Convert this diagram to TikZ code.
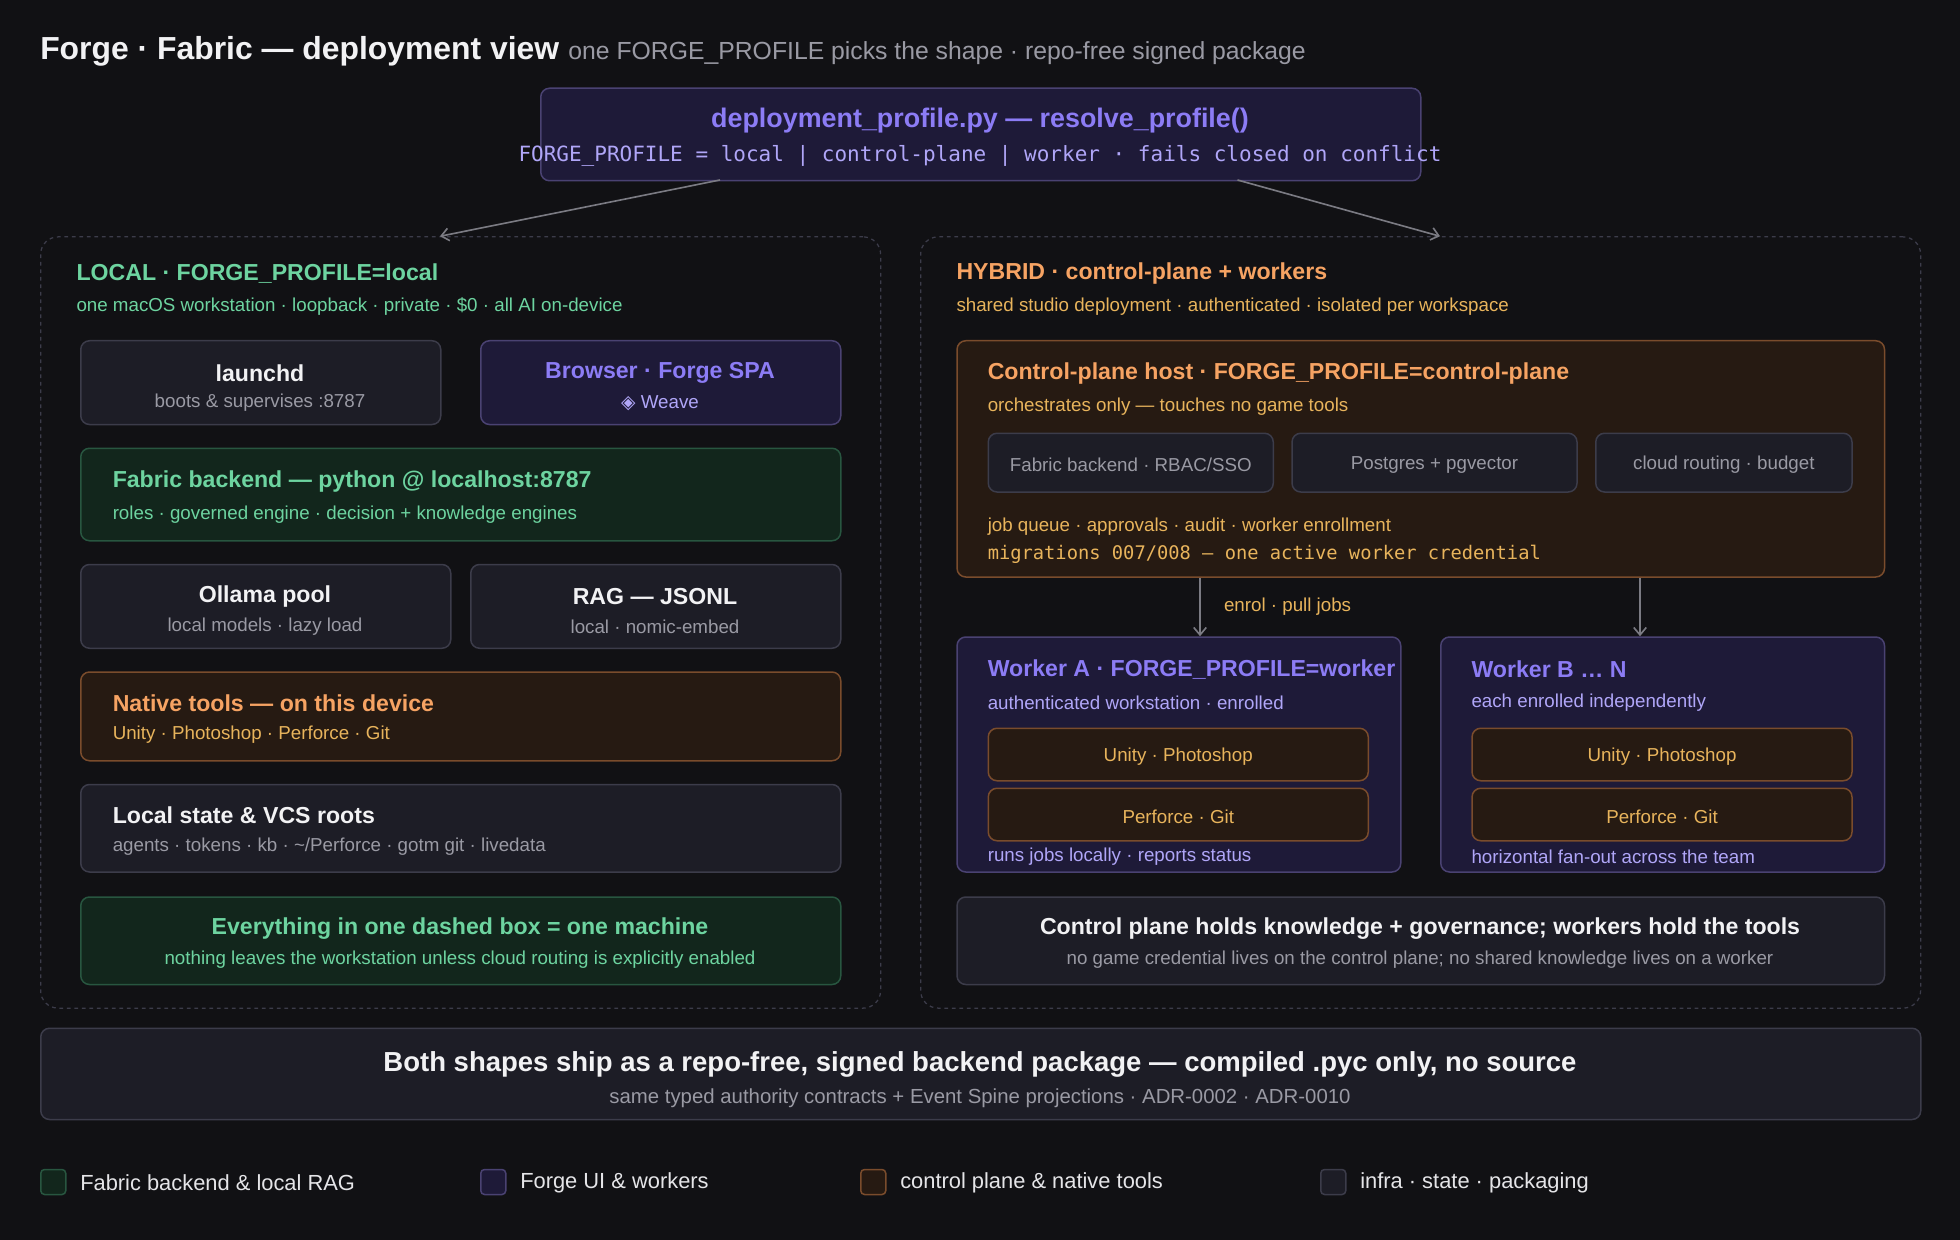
\documentclass[tikz,border=0pt]{standalone}
\usepackage{fontspec}
\setmainfont{Liberation Sans}
\setmonofont{DejaVu Sans Mono}
\newfontfamily\symf{DejaVu Sans}
\usetikzlibrary{arrows.meta}
\definecolor{bg}{HTML}{111114}
\definecolor{grn}{HTML}{6DD4A0}
\definecolor{pur}{HTML}{8C7CF5}
\definecolor{purl}{HTML}{B0A6F8}
\definecolor{org}{HTML}{F6A363}
\definecolor{gold}{HTML}{E8B45C}
\definecolor{gry}{HTML}{9A9AA4}
\definecolor{wht}{HTML}{F2F2F4}
\definecolor{nfill}{HTML}{1D1D26}\definecolor{nstr}{HTML}{3C3C4A}
\definecolor{pfill}{HTML}{1E1A38}\definecolor{pstr}{HTML}{4A4272}
\definecolor{gfill}{HTML}{12261C}\definecolor{gstr}{HTML}{285640}
\definecolor{ofill}{HTML}{261A12}\definecolor{ostr}{HTML}{7A4C2C}
\tikzset{
 bx/.style={anchor=north west,inner sep=0,rounded corners=7pt,line width=1.2pt},
 nb/.style={bx,fill=nfill,draw=nstr},
 pb/.style={bx,fill=pfill,draw=pstr},
 gb/.style={bx,fill=gfill,draw=gstr},
 ob/.style={bx,fill=ofill,draw=ostr},
 dz/.style={anchor=north west,inner sep=0,rounded corners=14pt,draw=nstr,dashed,line width=1pt},
 t/.style={inner sep=0,yshift=-1.5pt,font=\fontsize{18.5}{20}\selectfont\bfseries},
 s/.style={inner sep=0,yshift=-1.5pt,font=\fontsize{15}{16}\selectfont},
 m/.style={inner sep=0,yshift=-1.5pt,font=\fontsize{16}{18}\selectfont\ttfamily},
 arr/.style={draw=gry!80!black,line width=1.3pt,-{Straight Barb[length=6pt,width=10pt]}},
}
\begin{document}
\begin{tikzpicture}[x=1pt,y=-1pt]
\path[fill=bg,use as bounding box] (0,0) rectangle (1568,992);
\node[anchor=base west,inner sep=0,text=wht,font=\fontsize{25.5}{27}\selectfont\bfseries] (ttl) at (32,48) {Forge · Fabric — deployment view};
\node[anchor=base west,inner sep=0,text=gry,font=\fontsize{19.8}{21}\selectfont] (sub) at ([xshift=7pt]ttl.base east) {one FORGE\_PROFILE picks the shape · repo-free signed package};
% top
\node[pb,minimum width=704pt,minimum height=74pt] (top) at (432,70) {};
\node[t,text=pur,font=\fontsize{21.5}{23}\selectfont\bfseries] (topt) at (784,95) {deployment\_profile.py — resolve\_profile()};
\node[m,text=purl,font=\fontsize{16.8}{19}\selectfont\ttfamily] (topm) at (784,123) {FORGE\_PROFILE = local | control-plane | worker · fails closed on conflict};
% containers
\node[dz,minimum width=672pt,minimum height=617pt] (L) at (32,189) {};
\node[dz,minimum width=800pt,minimum height=617pt] (R) at (736,189) {};
\coordinate (a1) at (576,144); \coordinate (a2) at (990,144);
\draw[arr] (a1) -- (L.north -| 352,0);
\draw[arr] (a2) -- (R.north -| 1152,0);
% local
\node[t,anchor=west,text=grn] (lt) at (61,217) {LOCAL · FORGE\_PROFILE=local};
\node[s,anchor=west,text=grn] (ls) at (61,244) {one macOS workstation · loopback · private · \$0 · all AI on-device};
\node[nb,minimum width=288pt,minimum height=67pt] (ld) at (64,272) {};
\node[t,text=wht] at (208,297) {launchd};
\node[s,text=gry] at (208,321) {boots \& supervises :8787};
\node[pb,minimum width=288pt,minimum height=67pt] (br) at (384,272) {};
\node[t,text=pur] at (528,297) {Browser · Forge SPA};
\node[s,text=purl] at (528,321) {{\symf ◈} Weave};
\node[gb,minimum width=608pt,minimum height=74pt] (fb) at (64,358) {};
\node[t,anchor=west,text=grn] at (90,384) {Fabric backend — python @ localhost:8787};
\node[s,anchor=west,text=grn] at (90,410) {roles · governed engine · decision + knowledge engines};
\node[nb,minimum width=296pt,minimum height=67pt] (ol) at (64,451) {};
\node[t,text=wht] at (212,476) {Ollama pool};
\node[s,text=gry] at (212,500) {local models · lazy load};
\node[nb,minimum width=296pt,minimum height=67pt] (rg) at (376,451) {};
\node[t,text=wht] at (524,476) {RAG — JSONL};
\node[s,text=gry] at (524,500) {local · nomic-embed};
\node[ob,minimum width=608pt,minimum height=71pt] (nt) at (64,537) {};
\node[t,anchor=west,text=org] at (90,561) {Native tools — on this device};
\node[s,anchor=west,text=gold] at (90,586) {Unity · Photoshop · Perforce · Git};
\node[nb,minimum width=608pt,minimum height=70pt] (ls2) at (64,627) {};
\node[t,anchor=west,text=wht] at (90,651) {Local state \& VCS roots};
\node[s,anchor=west,text=gry] at (90,676) {agents · tokens · kb · \textasciitilde/Perforce · gotm git · livedata};
\node[gb,minimum width=608pt,minimum height=70pt] (ev) at (64,717) {};
\node[t,text=grn] at (368,741) {Everything in one dashed box = one machine};
\node[s,text=grn] at (368,766) {nothing leaves the workstation unless cloud routing is explicitly enabled};
% hybrid
\node[t,anchor=west,text=org] (ht) at (765,217) {HYBRID · control-plane + workers};
\node[s,anchor=west,text=gold] (hs) at (765,244) {shared studio deployment · authenticated · isolated per workspace};
\node[ob,minimum width=742pt,minimum height=189pt] (cp) at (765,272) {};
\node[t,anchor=west,text=org] at (790,297) {Control-plane host · FORGE\_PROFILE=control-plane};
\node[s,anchor=west,text=gold] at (790,324) {orchestrates only — touches no game tools};
\node[nb,minimum width=228pt,minimum height=47pt] (c1) at (790,346) {};
\node[s,text=gry] at (c1.center) {Fabric backend · RBAC/SSO};
\node[nb,minimum width=228pt,minimum height=47pt] (c2) at (1033,346) {};
\node[s,text=gry] at (c2.center) {Postgres + pgvector};
\node[nb,minimum width=205pt,minimum height=47pt] (c3) at (1276,346) {};
\node[s,text=gry] at (c3.center) {cloud routing · budget};
\node[s,anchor=west,text=gold] at (790,420) {job queue · approvals · audit · worker enrollment};
\node[m,anchor=west,text=gold,font=\fontsize{15}{17}\selectfont\ttfamily] at (790,442) {migrations 007/008 — one active worker credential};
\node[pb,minimum width=355pt,minimum height=188pt] (wa) at (765,509) {};
\node[pb,minimum width=355pt,minimum height=188pt] (wb) at (1152,509) {};
\draw[arr] (cp.south -| 960,0) -- (wa.north -| 960,0);
\draw[arr] (cp.south -| 1312,0) -- (wb.north -| 1312,0);
\node[s,anchor=west,text=gold] (el) at (979,484) {enrol · pull jobs};
\node[t,anchor=west,text=pur] at (790,534) {Worker A · FORGE\_PROFILE=worker};
\node[s,anchor=west,text=purl] at (790,561) {authenticated workstation · enrolled};
\node[ob,minimum width=304pt,minimum height=42pt] (wa1) at (790,582) {};
\node[s,text=gold] at (wa1.center) {Unity · Photoshop};
\node[ob,minimum width=304pt,minimum height=42pt] (wa2) at (790,630) {};
\node[s,text=gold] at (wa2.center) {Perforce · Git};
\node[s,anchor=west,text=purl] at (790,684) {runs jobs locally · reports status};
\node[t,anchor=west,text=pur] at (1177,534) {Worker B … N};
\node[s,anchor=west,text=purl] at (1177,561) {each enrolled independently};
\node[ob,minimum width=304pt,minimum height=42pt] (wb1) at (1177,582) {};
\node[s,text=gold] at (wb1.center) {Unity · Photoshop};
\node[ob,minimum width=304pt,minimum height=42pt] (wb2) at (1177,630) {};
\node[s,text=gold] at (wb2.center) {Perforce · Git};
\node[s,anchor=west,text=purl] at (1177,684) {horizontal fan-out across the team};
\node[nb,minimum width=742pt,minimum height=70pt] (cph) at (765,717) {};
\node[t,text=wht] at (1136,741) {Control plane holds knowledge + governance; workers hold the tools};
\node[s,text=gry] at (1136,766) {no game credential lives on the control plane; no shared knowledge lives on a worker};
% bottom
\node[nb,minimum width=1504pt,minimum height=73pt] (bt) at (32,822) {};
\node[t,text=wht,font=\fontsize{22}{24}\selectfont\bfseries] at (784,850) {Both shapes ship as a repo-free, signed backend package — compiled .pyc only, no source};
\node[s,text=gry,font=\fontsize{16.3}{18}\selectfont] at (784,877) {same typed authority contracts + Event Spine projections · ADR-0002 · ADR-0010};
% legend
\foreach \x/\st/\txt/\n in {32/gb/Fabric backend \& local RAG/l1,384/pb/Forge UI \& workers/l2,688/ob/control plane \& native tools/l3,1056/nb/infra · state · packaging/l4}{
 \node[\st,minimum width=20pt,minimum height=20pt,rounded corners=3pt] (\n) at (\x,935) {};
 \node[anchor=west,inner sep=0,yshift=-1.5pt,text=wht!85!gry,font=\fontsize{17.5}{19}\selectfont] (\n t) at (\x+32,945) {\txt};
}
\end{tikzpicture}
\end{document}
